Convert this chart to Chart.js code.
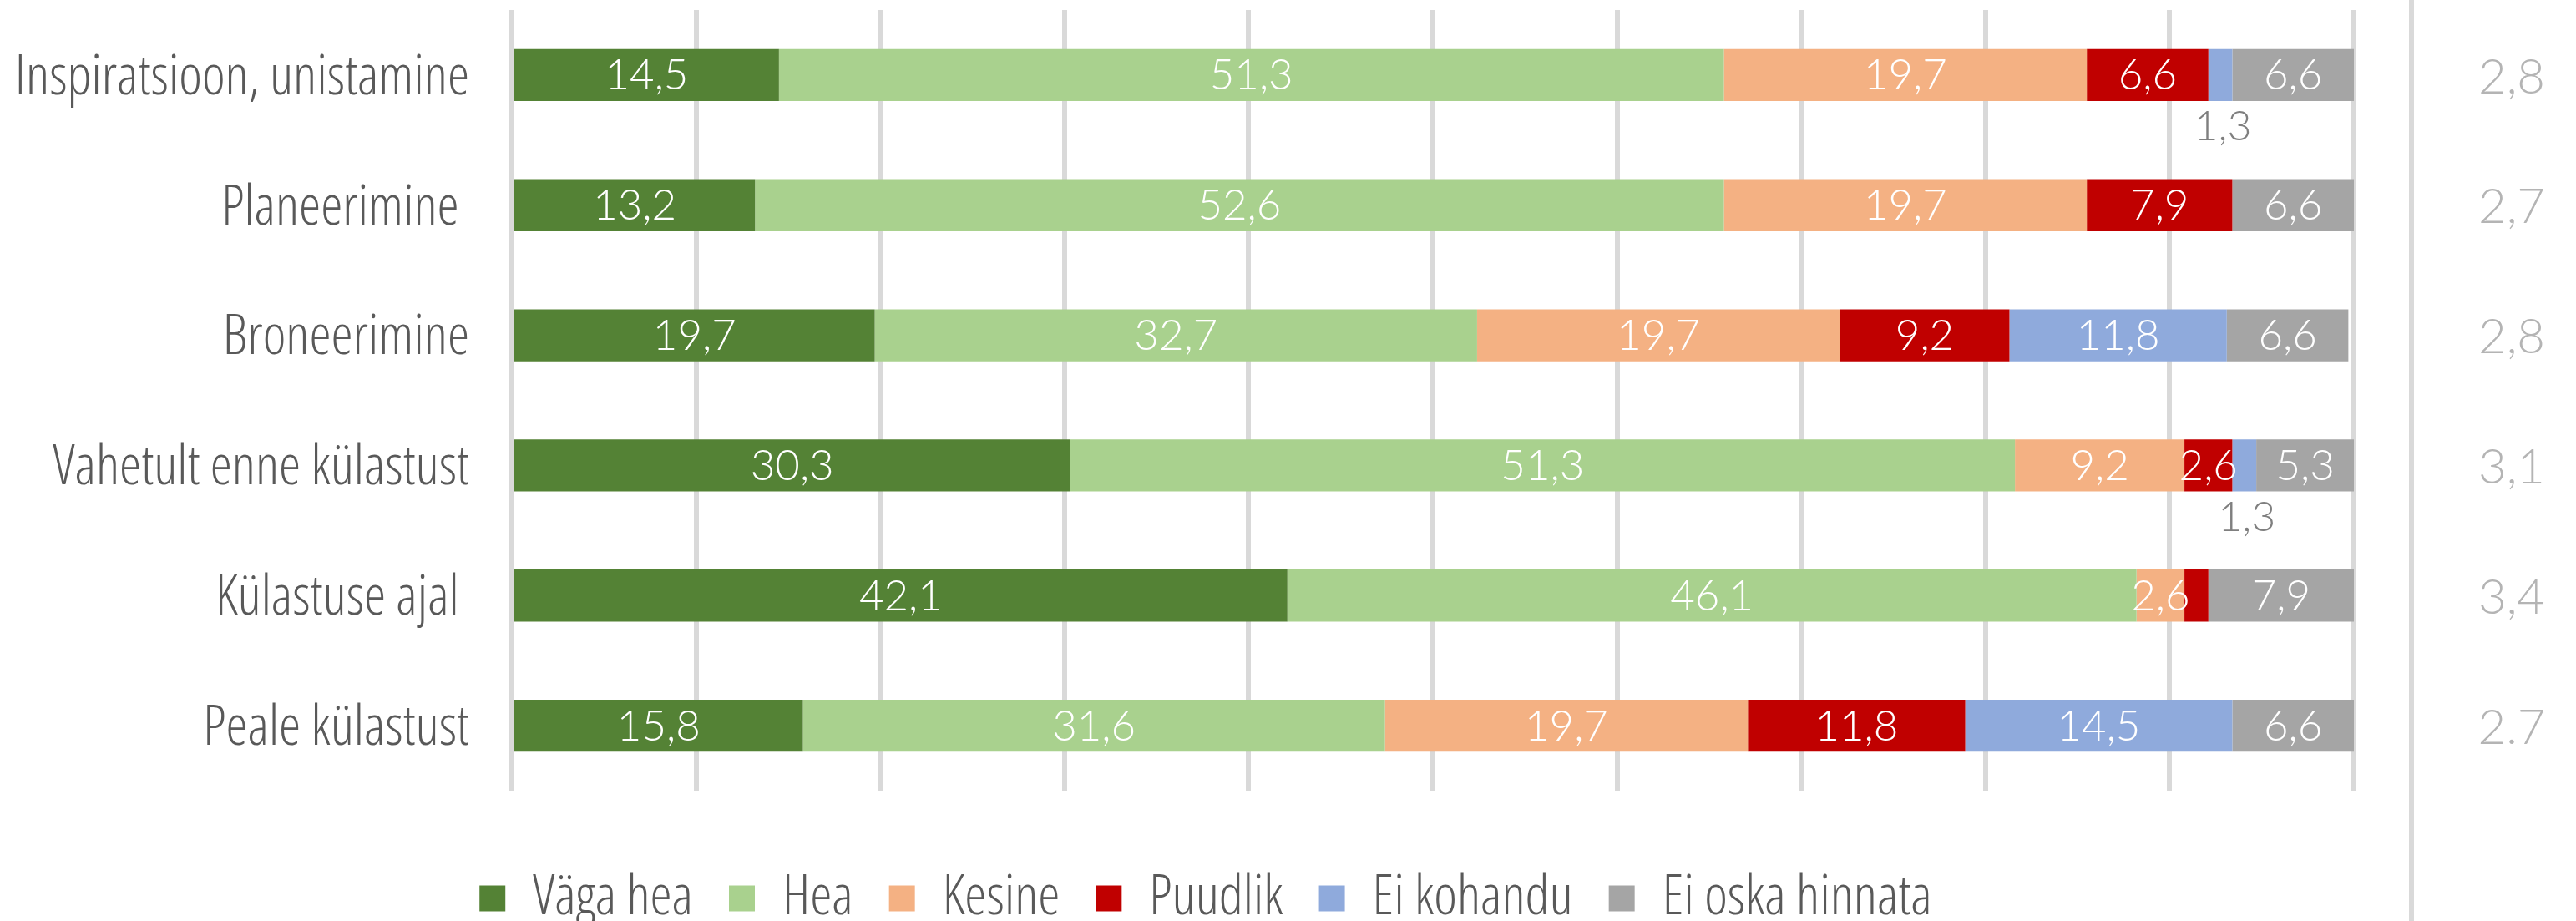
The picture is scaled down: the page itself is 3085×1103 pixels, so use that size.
<!DOCTYPE html>
<html>
<head>
<meta charset="utf-8">
<script src="https://cdn.jsdelivr.net/npm/chart.js@4.4.1/dist/chart.umd.min.js"></script>
<style>
  html, body { margin: 0; padding: 0; background: #ffffff; overflow: hidden; }
  #wrap { width: 3085px; height: 1103px; position: relative; }
</style>
</head>
<body>
<div id="wrap"><canvas id="c"></canvas></div>
<script>
// ---- data ----
const categories = ['Inspiratsioon, unistamine', 'Planeerimine ', 'Broneerimine', 'Vahetult enne külastust', 'Külastuse ajal ', 'Peale külastust'];
const seriesNames = ['Väga hea', 'Hea', 'Kesine', 'Puudlik', 'Ei kohandu', 'Ei oska hinnata'];
const vagaHea   = [14.5, 13.2, 19.7, 30.3, 42.1, 15.8];
const hea       = [51.3, 52.6, 32.7, 51.3, 46.1, 31.6];
const kesine    = [19.7, 19.7, 19.7, 9.2, 2.6, 19.7];
const puudlik   = [6.6, 7.9, 9.2, 2.6, 1.3, 11.8];
const eiKohandu = [1.3, 0, 11.8, 1.3, 0, 14.5];
const eiOska    = [6.6, 6.6, 6.6, 5.3, 7.9, 6.6];
const averageScores = ['2,8', '2,7', '2,8', '3,1', '3,4', '2.7'];
const seriesValues = [vagaHea, hea, kesine, puudlik, eiKohandu, eiOska];

// ---- styles ----
const seriesColors = ['#548235', '#A9D18E', '#F4B183', '#C00000', '#8FAADC', '#A5A5A5'];
const lightFont = "Lato, 'Open Sans', sans-serif";
// labels not shown in the original: [seriesIndex, categoryIndex]
const hiddenLabels = [[3, 4]];

// choose the narrowest-looking installed face for the category / legend text
function pickNarrowFont(sample, targetWidth, targetCap) {
  const ctx = document.createElement('canvas').getContext('2d');
  const candidates = [
    { family: "'Liberation Sans Narrow'", weight: '400' },
    { family: "'Noto Sans'", weight: '300 condensed' },
    { family: "'Open Sans'", weight: '300 condensed' },
    { family: "'DejaVu Sans'", weight: '200 condensed' },
    { family: "'Roboto Condensed'", weight: '300' },
    { family: "Roboto", weight: '300' },
    { family: "Lato", weight: '300' }
  ];
  const targetRatio = targetWidth / targetCap;
  let best = null;
  for (const c of candidates) {
    ctx.font = '10px monospace';
    ctx.font = c.weight + ' 100px ' + c.family;
    if (ctx.font.indexOf('100px') < 0) continue;
    const w = ctx.measureText(sample).width;
    const cap = ctx.measureText('H').actualBoundingBoxAscent || 72;
    const score = Math.abs(Math.log((w / cap) / targetRatio));
    if (!best || score < best.score - 0.03) {
      best = { family: c.family, weight: c.weight, score, size: Math.round(100 * targetWidth / w) };
    }
  }
  return best;
}
const narrow = pickNarrowFont('Inspiratsioon, unistamine', 545, 43);

const valueLabels = {
  id: 'valueLabels',
  afterDatasetsDraw(chart) {
    const ctx = chart.ctx;
    ctx.save();
    ctx.textAlign = 'center';
    ctx.textBaseline = 'middle';
    chart.data.datasets.forEach((ds, di) => {
      const meta = chart.getDatasetMeta(di);
      meta.data.forEach((el, ci) => {
        const v = ds.data[ci];
        if (!v) return;
        if (hiddenLabels.some(h => h[0] === di && h[1] === ci)) return;
        const p = el.getProps(['x', 'y', 'base', 'height'], true);
        const cx = (p.x + p.base) / 2;
        const text = v.toFixed(1).replace('.', ',');
        const below = di === 4 && v < 2;
        if (below) {
          ctx.font = '300 50px ' + lightFont;
          ctx.fillStyle = '#7f7f7f';
          ctx.fillText(text, cx + 3, p.y + p.height / 2 + 31);
        } else {
          ctx.font = '300 51px ' + lightFont;
          ctx.fillStyle = '#ffffff';
          ctx.fillText(text, cx, p.y + 1);
        }
      });
    });
    ctx.restore();
  }
};

// separator line and the column of average scores, placed with the y2 scale
const averageColumn = {
  id: 'averageColumn',
  afterDraw(chart) {
    const s = chart.scales.y2;
    const ctx = chart.ctx;
    ctx.save();
    ctx.strokeStyle = '#d9d9d9';
    ctx.lineWidth = 6;
    ctx.beginPath();
    ctx.moveTo(s.right, 0);
    ctx.lineTo(s.right, chart.height);
    ctx.stroke();
    ctx.font = '300 58px ' + lightFont;
    ctx.fillStyle = '#b4b4b4';
    ctx.textAlign = 'center';
    ctx.textBaseline = 'middle';
    s.ticks.forEach((t, i) => {
      ctx.fillText(s.getLabelForValue(t.value), s.right + 120, s.getPixelForTick(i) + 3);
    });
    ctx.restore();
  }
};

new Chart(document.getElementById('c'), {
  type: 'bar',
  data: {
    labels: categories,
    datasets: seriesNames.map((name, i) => ({
      label: name,
      data: seriesValues[i],
      backgroundColor: seriesColors[i],
      borderWidth: 0,
      yAxisID: 'y',
      xAxisID: 'x',
      categoryPercentage: 1,
      barPercentage: 0.4
    }))
  },
  options: {
    indexAxis: 'y',
    responsive: true,
    maintainAspectRatio: false,
    animation: false,
    events: [],
    layout: { padding: { top: 12, right: 197, bottom: 0, left: 0 } },
    scales: {
      x: {
        stacked: true,
        min: 0,
        max: 100,
        position: 'bottom',
        ticks: { display: false, stepSize: 10 },
        grid: { color: '#d9d9d9', lineWidth: 6, drawTicks: false },
        border: { display: false },
        afterFit(s) { s.height = 53; }
      },
      y: {
        stacked: true,
        position: 'left',
        grid: { display: false, drawTicks: false },
        border: { display: false },
        ticks: {
          color: '#595959',
          padding: 51,
          labelOffset: 4,
          font: { family: narrow.family, size: narrow.size, weight: narrow.weight }
        },
        afterFit(s) { s.width = 613; s.paddingTop = 0; s.paddingBottom = 0; }
      },
      y2: {
        type: 'category',
        labels: averageScores,
        position: 'right',
        offset: true,
        grid: { display: false, drawTicks: false },
        border: { display: false },
        ticks: { display: false },
        afterFit(s) { s.width = 69; s.paddingTop = 0; s.paddingBottom = 0; }
      }
    },
    plugins: {
      legend: {
        position: 'bottom',
        align: 'center',
        maxHeight: 103,
        labels: {
          color: '#595959',
          boxWidth: 31,
          boxHeight: 31,
          padding: 43,
          font: { family: narrow.family, size: narrow.size, weight: narrow.weight }
        }
      },
      tooltip: { enabled: false },
      title: { display: false }
    }
  },
  plugins: [valueLabels, averageColumn]
});
</script>
</body>
</html>
